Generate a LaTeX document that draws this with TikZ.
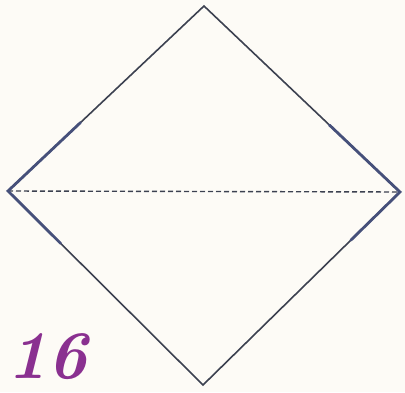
\documentclass[tikz,border=0pt]{standalone}
\usepackage{tikz}
\usetikzlibrary{calc}
\definecolor{paper}{HTML}{FDFBF6}
\definecolor{ink}{HTML}{3C4150}
\definecolor{edge}{HTML}{46507A}
\definecolor{stepnum}{HTML}{8A3090}
\tikzset{
  fold/.style={draw=ink,line width=1.6pt,line join=miter},
  crease/.style={draw=edge,line width=2.8pt,line cap=round},
  valley/.style={draw=ink,line width=1.4pt,dash pattern=on 5pt off 3pt},
  numlabel/.style={font=\fontsize{68}{68}\selectfont\itshape\bfseries,text=stepnum,inner sep=0pt,anchor=south west},
}
\begin{document}
\begin{tikzpicture}[x=1pt,y=1pt]
  \fill[paper] (0,0) rectangle (405,392);
  \useasboundingbox (0,0) rectangle (405,392);
  % corners of the square
  \coordinate (t) at (204,386);
  \coordinate (l) at (8,201);
  \coordinate (r) at (400,200);
  \coordinate (b) at (203,7);
  \draw[fold] (t) -- (r) -- (b) -- (l) -- cycle;
  \draw[valley] (l) -- (r);
  % thicker edges near the side corners
  \draw[crease] ($(l)!0.37!(t)$) -- (l) -- ($(l)!0.27!(b)$);
  \draw[crease] ($(r)!0.36!(t)$) -- (r) -- ($(r)!0.25!(b)$);
  \node[numlabel] (num) at (7,12) {16};
\end{tikzpicture}
\end{document}
